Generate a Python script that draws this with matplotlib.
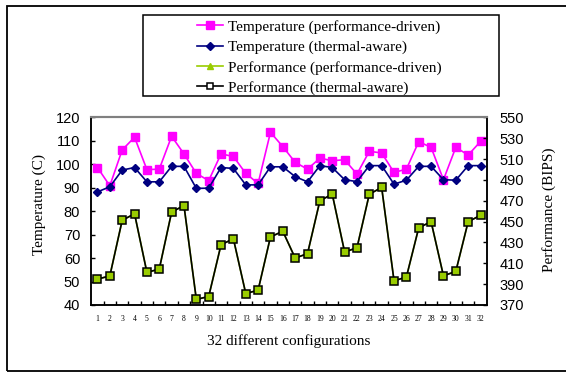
import matplotlib
matplotlib.use("Agg")
import matplotlib.pyplot as plt
from matplotlib.lines import Line2D
from matplotlib.patches import Rectangle
from matplotlib.ticker import FixedLocator, MultipleLocator

configs = list(range(1, 33))
temp_perf_driven = [98.6, 90.8, 106.1, 111.5, 97.7, 97.9, 111.9, 104.4, 96.1, 93.0,
                    104.4, 103.3, 96.1, 91.8, 113.6, 107.5, 100.8, 97.9, 102.6, 101.5,
                    101.9, 95.8, 105.5, 104.8, 96.5, 97.9, 109.6, 107.2, 93.4, 107.2,
                    103.9, 109.7]
temp_thermal_aware = [88.2, 90.4, 97.5, 98.6, 92.5, 92.5, 99.1, 99.1, 89.7, 89.8,
                      98.6, 98.2, 91.2, 91.2, 98.9, 98.9, 94.7, 92.5, 99.4, 98.6,
                      93.4, 92.6, 99.4, 99.4, 91.5, 93.2, 99.1, 99.1, 93.4, 93.2,
                      99.4, 99.4]
perf_perf_driven = [394.8, 397.9, 451.2, 457.5, 401.3, 404.4, 459.1, 465.4, 375.4, 378.1,
                    427.8, 433.5, 381.0, 384.2, 435.3, 440.7, 415.0, 419.3, 470.0, 476.3,
                    420.9, 424.8, 476.3, 482.7, 393.2, 396.8, 444.1, 449.9, 398.0, 402.2,
                    449.9, 456.0]
perf_thermal_aware = [394.8, 397.9, 451.2, 457.5, 401.3, 404.4, 459.1, 465.4, 375.4, 378.1,
                      427.8, 433.5, 381.0, 384.2, 435.3, 440.7, 415.0, 419.3, 470.0, 476.3,
                      420.9, 424.8, 476.3, 482.7, 393.2, 396.8, 444.1, 449.9, 398.0, 402.2,
                      449.9, 456.0]
temp_ticks = [40, 50, 60, 70, 80, 90, 100, 110, 120]
perf_ticks = [370, 390, 410, 430, 450, 470, 490, 510, 530, 550]
labels = ["Temperature (performance-driven)", "Temperature (thermal-aware)",
          "Performance (performance-driven)", "Performance (thermal-aware)"]

W, H = 566, 373
fig = plt.figure(figsize=(W / 100, H / 100), dpi=100)
ax = fig.add_axes([91.3 / W, 1 - 305 / H, 395.4 / W, 187.7 / H])
ax2 = ax.twinx()

serif = "Liberation Serif"
sans = "Liberation Sans"

ax.plot(configs, temp_perf_driven, color="#FF00FF", lw=1.2, marker="s", ms=6,
        mfc="#FF00FF", mec="#FF00FF", zorder=3)
ax.plot(configs, temp_thermal_aware, color="#000080", lw=1.2, marker="D", ms=4.5,
        mfc="#000080", mec="#000080", zorder=4)
ax2.plot(configs, perf_perf_driven, color="#99CC00", lw=1.2, marker="^", ms=5,
         mfc="#99CC00", mec="#99CC00", zorder=2)
ax2.plot(configs, perf_thermal_aware, color="black", lw=1.2, marker="s", ms=5.5,
         mfc="#99CC00", mec="black", mew=1.1, zorder=3)

ax.set_xlim(0.5, 32.5)
ax.set_ylim(temp_ticks[0], temp_ticks[-1])
ax.yaxis.set_major_locator(FixedLocator(temp_ticks))
ax2.set_ylim(perf_ticks[0], perf_ticks[-1])
ax2.yaxis.set_major_locator(FixedLocator(perf_ticks))
ax.set_xticks(configs)
ax.set_xticklabels([str(c) for c in configs], fontfamily=serif, fontsize=5.5)
ax.xaxis.set_minor_locator(FixedLocator([i + 0.5 for i in range(1, 32)]))
ax.tick_params(axis="x", which="major", length=0, pad=7)
ax.tick_params(axis="x", which="minor", direction="in", length=3, width=1)
ax.tick_params(axis="y", direction="in", length=3, width=1, pad=8, labelsize=10.5)
ax2.tick_params(axis="y", direction="in", length=3, width=1, pad=9, labelsize=10.5)
for t in ax.get_yticklabels() + ax2.get_yticklabels():
    t.set_fontfamily(sans)

for a in (ax, ax2):
    a.spines["top"].set_color("#808080")
    a.spines["top"].set_linewidth(1.5)
    for s in ("left", "right", "bottom"):
        a.spines[s].set_color("black")
        a.spines[s].set_linewidth(1.1)

ax.set_xlabel("32 different configurations", fontfamily=serif, fontsize=11)
ax.xaxis.set_label_coords(0.5, -0.155)
ax.set_ylabel("Temperature (C)", fontfamily=serif, fontsize=11)
ax.yaxis.set_label_coords(-0.115, 0.533)
ax2.set_ylabel("Performance (BIPS)", fontfamily=serif, fontsize=11, rotation=90)
ax2.yaxis.set_label_coords(1.14, 0.51)

handles = [
    Line2D([], [], color="#FF00FF", lw=1.2, marker="s", ms=6, mfc="#FF00FF", mec="#FF00FF"),
    Line2D([], [], color="#000080", lw=1.2, marker="D", ms=4.5, mfc="#000080", mec="#000080"),
    Line2D([], [], color="#99CC00", lw=1.2, marker="^", ms=5, mfc="#99CC00", mec="#99CC00"),
    Line2D([], [], color="black", lw=1.2, marker="s", ms=5, mfc="white", mec="black", mew=1.1),
]
fig.legend(handles, labels, loc="upper left", bbox_to_anchor=(197 / W, 1 - 20 / H),
           frameon=False, borderpad=0, borderaxespad=0, handlelength=1.7,
           handletextpad=0.3, labelspacing=0.42, prop={"family": serif, "size": 11})

fig.patches.append(Rectangle((143 / W, 1 - 96 / H), (499 - 143) / W, (96 - 15) / H,
                             transform=fig.transFigure, fill=False, ec="black", lw=1.1))
fig.patches.append(Rectangle((7 / W, 1 - 371 / H), 1.1, (371 - 5.5) / H,
                             transform=fig.transFigure, fill=False, ec="black", lw=1.3,
                             clip_on=False))

fig.savefig("out.png", dpi=100)
